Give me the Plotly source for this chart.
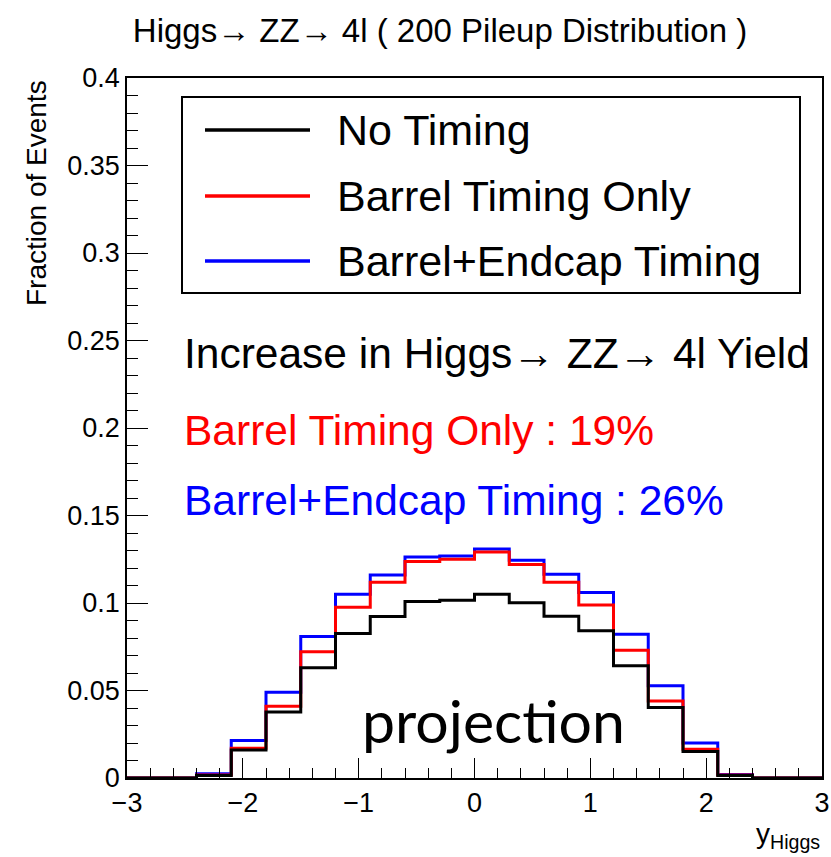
import plotly.graph_objects as go

# ---- data ----
bin_edges = [-3.0, -2.7, -2.4, -2.1, -1.8, -1.5, -1.2, -0.9, -0.6, -0.3, 0.0,
             0.3, 0.6, 0.9, 1.2, 1.5, 1.8, 2.1, 2.4, 2.7, 3.0]
no_timing = [0, 0, 0.0015, 0.016, 0.0377, 0.063, 0.0826, 0.0923, 0.1008, 0.1016,
             0.105, 0.1001, 0.0925, 0.0841, 0.0641, 0.0403, 0.0152, 0.0015, 0, 0]
barrel_only = [0, 0, 0.0017, 0.017, 0.041, 0.0721, 0.0976, 0.1119, 0.1237, 0.125,
               0.1292, 0.122, 0.1119, 0.0989, 0.073, 0.044, 0.0164, 0.0017, 0, 0]
barrel_endcap = [0, 0, 0.0025, 0.0215, 0.049, 0.0809, 0.105, 0.116, 0.1263, 0.1269,
                 0.1309, 0.1244, 0.1164, 0.106, 0.0822, 0.0527, 0.02, 0.002, 0, 0]
series_names = ["No Timing", "Barrel Timing Only", "Barrel+Endcap Timing"]
series_colors = ["black", "red", "blue"]
yield_lines = ["Increase in Higgs\u2192 ZZ\u2192 4l Yield",
               "Barrel Timing Only : 19%",
               "Barrel+Endcap Timing : 26%"]
y_tick_vals = [0, 0.05, 0.1, 0.15, 0.2, 0.25, 0.3, 0.35, 0.4]
x_tick_vals = [-3, -2, -1, 0, 1, 2, 3]

FONT = "Liberation Sans"

fig = go.Figure()
series = [no_timing, barrel_only, barrel_endcap]
# draw blue, red, black (black on top)
for idx in [2, 1, 0]:
    vals = series[idx]
    fig.add_trace(go.Scatter(
        x=bin_edges, y=list(vals) + [vals[-1]],
        mode="lines", line=dict(shape="hv", color=series_colors[idx], width=3),
        name=series_names[idx], showlegend=False, hoverinfo="skip"))

fig.update_layout(
    width=831, height=857,
    margin=dict(l=127, r=9, t=78, b=79, autoexpand=False),
    paper_bgcolor="white", plot_bgcolor="white",
    font=dict(family=FONT, color="black"),
    title=dict(text="Higgs\u2192 ZZ\u2192 4l ( 200 Pileup Distribution )",
               x=440 / 831, xanchor="center", y=1 - 30 / 857, yanchor="middle",
               font=dict(size=33, family=FONT, color="black")),
)
fig.update_xaxes(range=[-3, 3], showgrid=False, zeroline=False, automargin=False,
                 showline=True, linecolor="black", linewidth=1.5, mirror=True,
                 ticks="inside", ticklen=20, tickwidth=1.2, tickcolor="black",
                 tickvals=x_tick_vals, tickfont=dict(size=27, family=FONT),
                 minor=dict(ticks="inside", dtick=0.2, ticklen=10, tickwidth=1.2,
                            tickcolor="black", showgrid=False))
fig.update_yaxes(range=[0, 0.4], showgrid=False, zeroline=False, automargin=False,
                 showline=True, linecolor="black", linewidth=1.5, mirror=True,
                 ticks="inside", ticklen=21, tickwidth=1.2, tickcolor="black",
                 tickvals=y_tick_vals, tickfont=dict(size=27, family=FONT),
                 minor=dict(ticks="inside", dtick=0.01, ticklen=11, tickwidth=1.2,
                            tickcolor="black", showgrid=False))

def px_x(p):
    return (p - 127) / 695.0

def px_y(p):
    return (778 - p) / 700.0

# legend box
fig.add_shape(type="rect", xref="paper", yref="paper",
              x0=px_x(182), x1=px_x(800), y0=px_y(293), y1=px_y(97),
              line=dict(color="black", width=2), fillcolor="white", layer="above")
rows = [130, 196, 261]
for name, col, ry in zip(series_names, series_colors, rows):
    fig.add_shape(type="line", xref="paper", yref="paper",
                  x0=px_x(205), x1=px_x(310), y0=px_y(ry), y1=px_y(ry),
                  line=dict(color=col, width=3.5), layer="above")
    fig.add_annotation(xref="paper", yref="paper", x=px_x(335), y=px_y(ry),
                       xanchor="left", yanchor="middle", showarrow=False,
                       text=name, font=dict(size=43, family=FONT, color="black"))

# yield text
for txt, col, ty in zip(yield_lines, series_colors, [353, 430, 500]):
    fig.add_annotation(xref="paper", yref="paper", x=px_x(182), y=px_y(ty),
                       xanchor="left", yanchor="middle", showarrow=False,
                       text=txt, font=dict(size=42.5, family=FONT, color=col))

fig.add_annotation(xref="paper", yref="paper", x=px_x(493), y=px_y(720),
                   xanchor="center", yanchor="middle", showarrow=False,
                   text="projection", font=dict(size=59, family="Lato", color="black"))

# axis titles
fig.add_annotation(xref="paper", yref="paper", x=px_x(36), y=1.0,
                   xanchor="center", yanchor="top", showarrow=False, textangle=-90,
                   text="Fraction of Events", font=dict(size=28, family=FONT, color="black"))
fig.add_annotation(xref="paper", yref="paper", x=1.0, y=px_y(836),
                   xanchor="right", yanchor="middle", showarrow=False,
                   text="y<sub>Higgs</sub>", font=dict(size=28, family=FONT, color="black"))

fig.write_html("out.html", config={"displayModeBar": False},
               post_script="document.body.style.margin='0';")
